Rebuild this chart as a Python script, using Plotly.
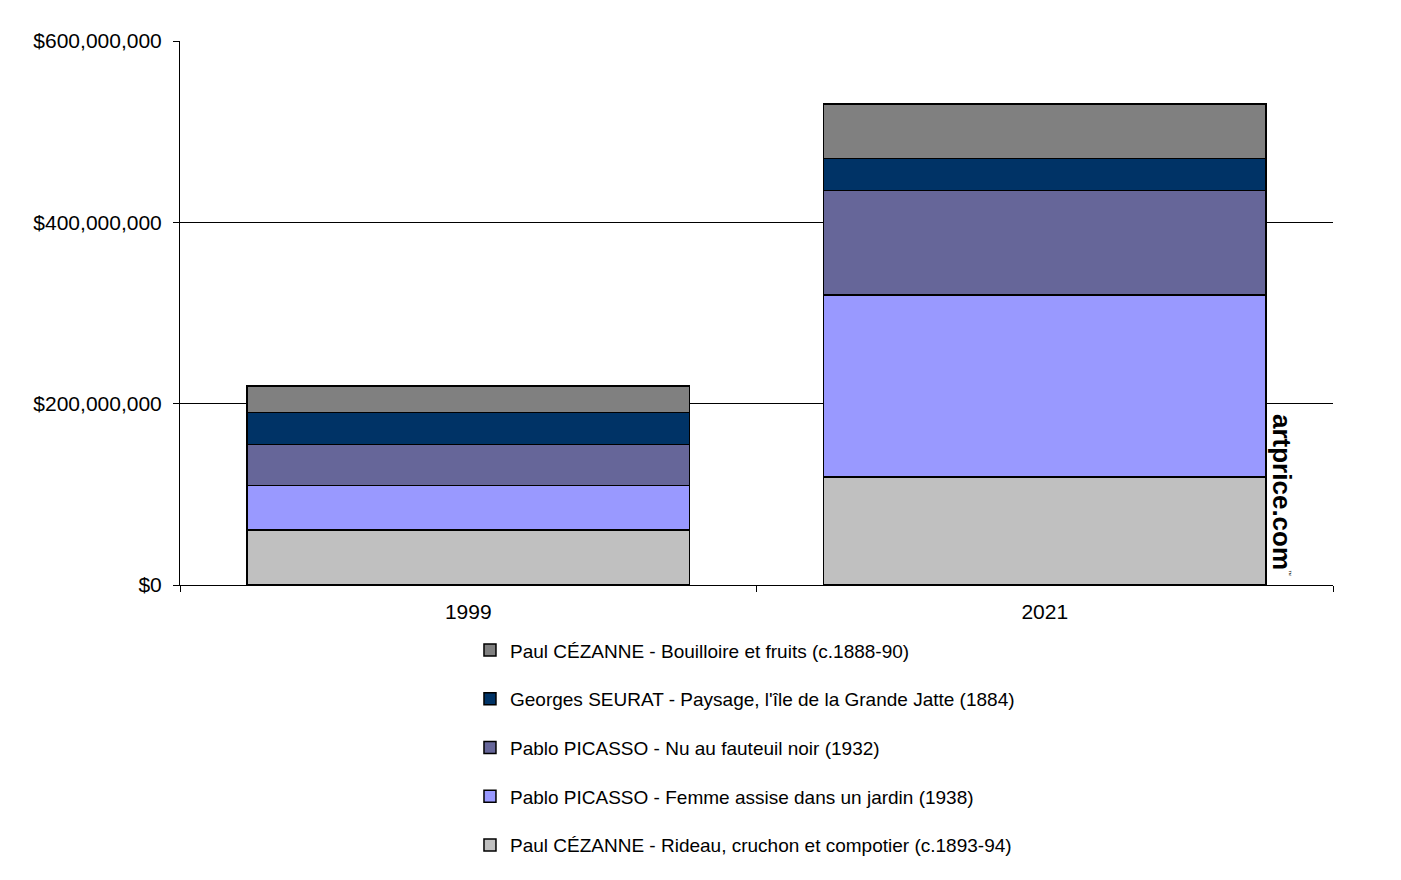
import plotly.graph_objects as go

years = ["1999", "2021"]
series_names = [
    "Paul CÉZANNE - Rideau, cruchon et compotier (c.1893-94)",
    "Pablo PICASSO - Femme assise dans un jardin (1938)",
    "Pablo PICASSO - Nu au fauteuil noir (1932)",
    "Georges SEURAT - Paysage, l'île de la Grande Jatte (1884)",
    "Paul CÉZANNE - Bouilloire et fruits (c.1888-90)",
]
rideau = [60500000, 119000000]
femme = [49500000, 201000000]
nu = [45100000, 115000000]
seurat = [35200000, 35200000]
bouilloire = [29100000, 60500000]
series_values = [rideau, femme, nu, seurat, bouilloire]
colors = ["#C0C0C0", "#9999FF", "#666699", "#003366", "#808080"]
y_ticks = [0, 200000000, 400000000, 600000000]
y_tick_labels = ["$0", "$200,000,000", "$400,000,000", "$600,000,000"]

FONT = "Liberation Sans, Arial, Helvetica, sans-serif"

fig = go.Figure()
n = len(series_names)
for i, (name, vals, col) in enumerate(zip(series_names, series_values, colors)):
    fig.add_trace(go.Bar(
        x=years, y=vals, name=name, legendgroup=f"g{i}", legendrank=n - i,
        marker=dict(color=col, line=dict(color="#000000", width=1.5)),
    ))

fig.update_layout(
    barmode="stack",
    bargap=0.232,
    width=1401, height=880,
    margin=dict(l=172, r=76, t=33, b=303),
    plot_bgcolor="#FFFFFF", paper_bgcolor="#FFFFFF",
    font=dict(family=FONT, size=21, color="#000000"),
    showlegend=True,
    legend=dict(
        traceorder="grouped", tracegroupgap=21,
        orientation="v", x=0.2515, xanchor="left", y=-0.085, yanchor="top",
        font=dict(family=FONT, size=19, color="#000000"),
        itemwidth=30, bgcolor="rgba(0,0,0,0)",
    ),
    xaxis=dict(
        type="category", showline=True, linecolor="#000000", linewidth=1,
        ticks="outside", tickson="boundaries", ticklen=6, tickcolor="#000000",
        tickfont=dict(size=21), showgrid=False, zeroline=False,
        ticklabelstandoff=8,
    ),
    yaxis=dict(
        range=[0, 600000000], tickvals=y_ticks, ticktext=y_tick_labels,
        showline=True, linecolor="#000000", linewidth=1,
        ticks="outside", ticklen=6, tickcolor="#000000",
        showgrid=True, gridcolor="#000000", gridwidth=1,
        zeroline=False, tickfont=dict(size=21), ticklabelstandoff=7,
    ),
)

fig.add_annotation(
    text="<b>artprice.com</b>", xref="paper", yref="paper",
    x=(1282 - 180) / 1153, y=(585 - 492) / 544, textangle=90,
    xanchor="center", yanchor="middle",
    showarrow=False, font=dict(family=FONT, size=26, color="#000000"),
)
fig.add_annotation(
    text="™", xref="paper", yref="paper",
    x=(1289 - 180) / 1153, y=(585 - 573) / 544, textangle=90,
    xanchor="center", yanchor="middle",
    showarrow=False, font=dict(family=FONT, size=6, color="#000000"),
)

fig.write_html("out.html")
